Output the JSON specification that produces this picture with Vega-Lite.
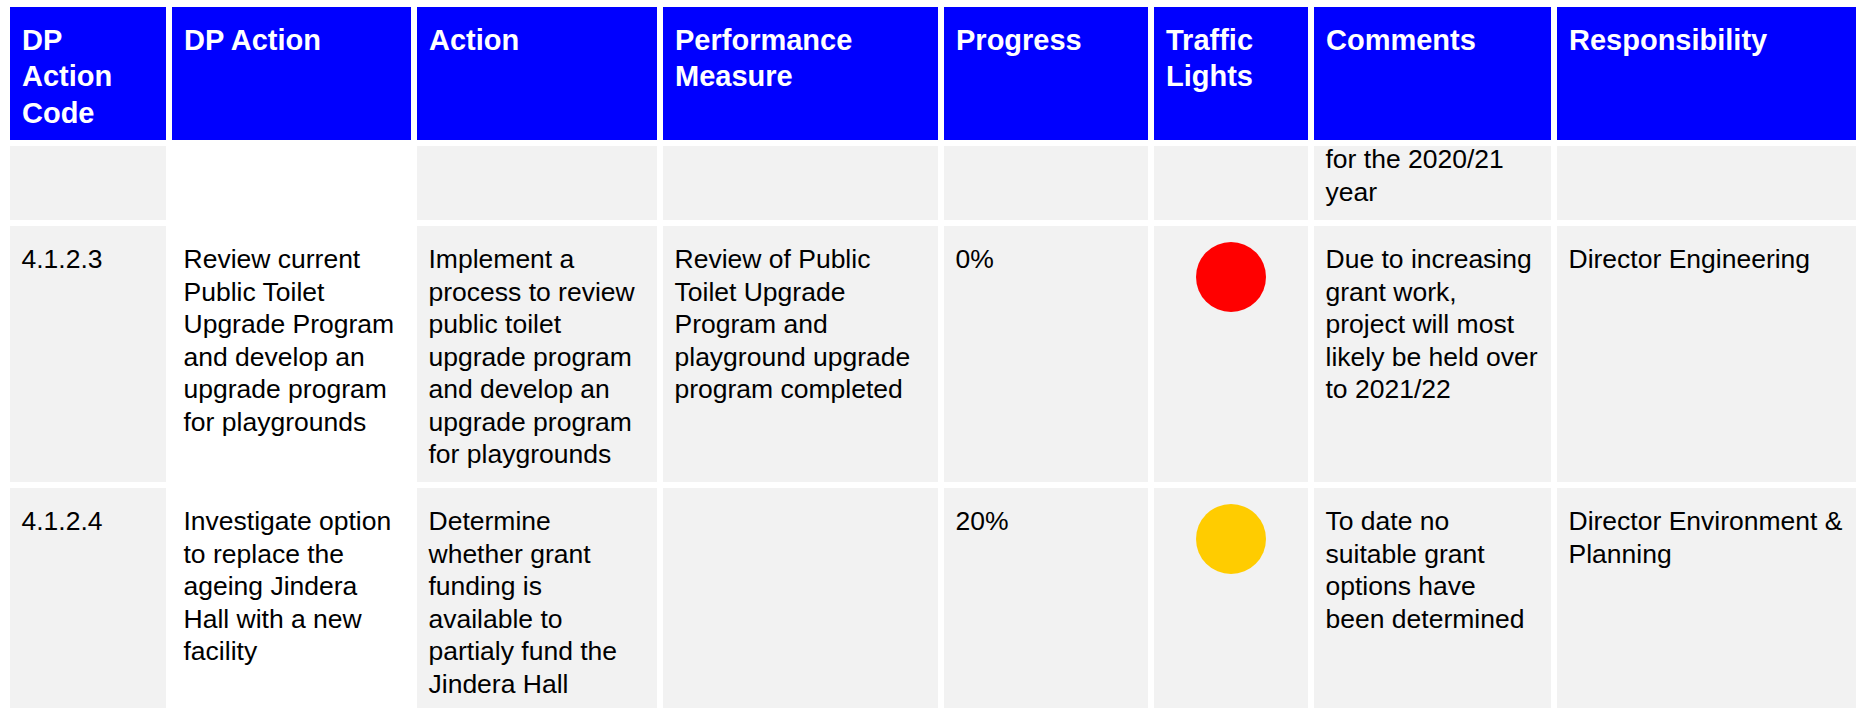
{
  "$schema": "https://vega.github.io/schema/vega-lite/v6.json",
  "width": 1856,
  "height": 708,
  "autosize": {"type": "none"},
  "padding": 0,
  "background": "#FFFFFF",
  "config": {"view": {"stroke": null}},
  "datasets": {
    "columns": [
      {"col": 1, "left": 10, "right": 166, "mid": 88},
      {"col": 2, "left": 172, "right": 411, "mid": 291.5},
      {"col": 3, "left": 417, "right": 657, "mid": 537},
      {"col": 4, "left": 663, "right": 938, "mid": 800.5},
      {"col": 5, "left": 944, "right": 1148, "mid": 1046},
      {"col": 6, "left": 1154, "right": 1308, "mid": 1231},
      {"col": 7, "left": 1314, "right": 1551, "mid": 1432.5},
      {"col": 8, "left": 1557, "right": 1856, "mid": 1706.5}
    ],
    "rows": [
      {"row": "header", "top": 7, "bottom": 140},
      {"row": "r1", "top": 146, "bottom": 220},
      {"row": "r2", "top": 226, "bottom": 482},
      {"row": "r3", "top": 488, "bottom": 708}
    ],
    "cells": [
      {"row": "header", "col": 1, "kind": "head", "text": "DP\nAction\nCode", "light": null},
      {"row": "header", "col": 2, "kind": "head", "text": "DP Action", "light": null},
      {"row": "header", "col": 3, "kind": "head", "text": "Action", "light": null},
      {"row": "header", "col": 4, "kind": "head", "text": "Performance\nMeasure", "light": null},
      {"row": "header", "col": 5, "kind": "head", "text": "Progress", "light": null},
      {"row": "header", "col": 6, "kind": "head", "text": "Traffic\nLights", "light": null},
      {"row": "header", "col": 7, "kind": "head", "text": "Comments", "light": null},
      {"row": "header", "col": 8, "kind": "head", "text": "Responsibility", "light": null},

      {"row": "r1", "col": 1, "kind": "shade", "text": "", "light": null},
      {"row": "r1", "col": 2, "kind": "plain", "text": "", "light": null},
      {"row": "r1", "col": 3, "kind": "shade", "text": "", "light": null},
      {"row": "r1", "col": 4, "kind": "shade", "text": "", "light": null},
      {"row": "r1", "col": 5, "kind": "shade", "text": "", "light": null},
      {"row": "r1", "col": 6, "kind": "shade", "text": "", "light": null},
      {"row": "r1", "col": 7, "kind": "shade", "text": "for the 2020/21\nyear", "light": null},
      {"row": "r1", "col": 8, "kind": "shade", "text": "", "light": null},

      {"row": "r2", "col": 1, "kind": "shade", "text": "4.1.2.3", "light": null},
      {"row": "r2", "col": 2, "kind": "plain", "text": "Review current\nPublic Toilet\nUpgrade Program\nand develop an\nupgrade program\nfor playgrounds", "light": null},
      {"row": "r2", "col": 3, "kind": "shade", "text": "Implement a\nprocess to review\npublic toilet\nupgrade program\nand develop an\nupgrade program\nfor playgrounds", "light": null},
      {"row": "r2", "col": 4, "kind": "shade", "text": "Review of Public\nToilet Upgrade\nProgram and\nplayground upgrade\nprogram completed", "light": null},
      {"row": "r2", "col": 5, "kind": "shade", "text": "0%", "light": null},
      {"row": "r2", "col": 6, "kind": "shade", "text": "", "light": "red"},
      {"row": "r2", "col": 7, "kind": "shade", "text": "Due to increasing\ngrant work,\nproject will most\nlikely be held over\nto 2021/22", "light": null},
      {"row": "r2", "col": 8, "kind": "shade", "text": "Director Engineering", "light": null},

      {"row": "r3", "col": 1, "kind": "shade", "text": "4.1.2.4", "light": null},
      {"row": "r3", "col": 2, "kind": "plain", "text": "Investigate option\nto replace the\nageing Jindera\nHall with a new\nfacility", "light": null},
      {"row": "r3", "col": 3, "kind": "shade", "text": "Determine\nwhether grant\nfunding is\navailable to\npartialy fund the\nJindera Hall", "light": null},
      {"row": "r3", "col": 4, "kind": "shade", "text": "", "light": null},
      {"row": "r3", "col": 5, "kind": "shade", "text": "20%", "light": null},
      {"row": "r3", "col": 6, "kind": "shade", "text": "", "light": "yellow"},
      {"row": "r3", "col": 7, "kind": "shade", "text": "To date no\nsuitable grant\noptions have\nbeen determined", "light": null},
      {"row": "r3", "col": 8, "kind": "shade", "text": "Director Environment &\nPlanning", "light": null}
    ]
  },
  "data": {"name": "cells"},
  "transform": [
    {"lookup": "col", "from": {"data": {"name": "columns"}, "key": "col", "fields": ["left", "right", "mid"]}},
    {"lookup": "row", "from": {"data": {"name": "rows"}, "key": "row", "fields": ["top", "bottom"]}}
  ],
  "layer": [
    {
      "mark": {"type": "rect"},
      "encoding": {
        "x": {"field": "left", "type": "quantitative", "scale": {"domain": [0, 1856], "range": [0, 1856], "nice": false, "zero": false}, "axis": null},
        "x2": {"field": "right"},
        "y": {"field": "top", "type": "quantitative", "scale": {"domain": [0, 708], "range": [0, 708], "nice": false, "zero": false}, "axis": null},
        "y2": {"field": "bottom"},
        "color": {"field": "kind", "type": "nominal", "scale": {"domain": ["head", "shade", "plain"], "range": ["#0000FF", "#F2F2F2", "#FFFFFF"]}, "legend": null}
      }
    },
    {
      "transform": [{"filter": "datum.row === 'header'"}],
      "mark": {"type": "text", "align": "left", "baseline": "alphabetic", "dx": 12, "dy": 43, "font": "Liberation Sans", "fontWeight": "bold", "fontSize": 29, "lineHeight": 36.3, "lineBreak": "\n", "color": "#FFFFFF"},
      "encoding": {
        "x": {"field": "left", "type": "quantitative"},
        "y": {"field": "top", "type": "quantitative"},
        "text": {"field": "text"}
      }
    },
    {
      "transform": [{"filter": "datum.row === 'r2' || datum.row === 'r3'"}],
      "mark": {"type": "text", "align": "left", "baseline": "alphabetic", "dx": 11.5, "dy": 42, "font": "Liberation Sans", "fontSize": 26.5, "lineHeight": 32.5, "lineBreak": "\n", "color": "#000000"},
      "encoding": {
        "x": {"field": "left", "type": "quantitative"},
        "y": {"field": "top", "type": "quantitative"},
        "text": {"field": "text"}
      }
    },
    {
      "transform": [{"filter": "datum.row === 'r1'"}],
      "mark": {"type": "text", "align": "left", "baseline": "alphabetic", "dx": 11.5, "dy": 22, "font": "Liberation Sans", "fontSize": 26.5, "lineHeight": 33.3, "lineBreak": "\n", "color": "#000000"},
      "encoding": {
        "x": {"field": "left", "type": "quantitative"},
        "y": {"field": "top", "type": "quantitative"},
        "text": {"field": "text"}
      }
    },
    {
      "transform": [{"filter": "datum.light != null"}],
      "mark": {"type": "point", "shape": "circle", "filled": true, "opacity": 1, "size": 4900, "yOffset": 51, "strokeWidth": 0},
      "encoding": {
        "x": {"field": "mid", "type": "quantitative"},
        "y": {"field": "top", "type": "quantitative"},
        "fill": {"field": "light", "type": "nominal", "scale": {"domain": ["red", "yellow"], "range": ["#FF0000", "#FFCC00"]}, "legend": null}
      }
    }
  ]
}
